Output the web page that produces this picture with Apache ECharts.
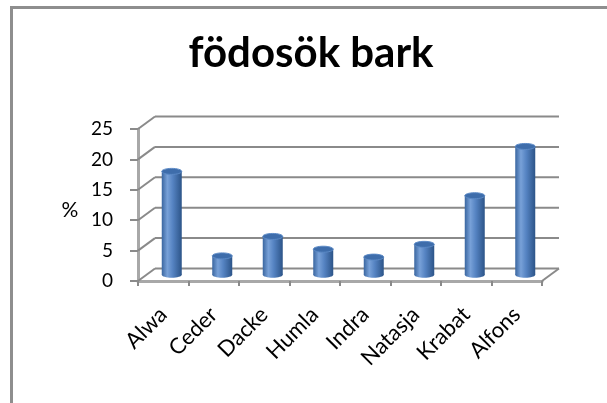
<!DOCTYPE html>
<html>
<head>
<meta charset="utf-8">
<script src="https://cdn.jsdelivr.net/npm/echarts@6/dist/echarts.min.js"></script>
<style>
  html, body { margin: 0; padding: 0; background: #ffffff; }
  #chart { width: 607px; height: 403px; }
</style>
</head>
<body>
<div id="chart"></div>
<script>
// Share of foraging on bark, per individual
const categories = ['Alwa', 'Ceder', 'Dacke', 'Humla', 'Indra', 'Natasja', 'Krabat', 'Alfons'];
const percentValues = [17, 3.1, 6.3, 4.2, 2.9, 5, 13, 21.1];
const yTicks = [0, 5, 10, 15, 20, 25];

// Depth of the pseudo-3D box (back wall offset from the front plane)
const DX = 17;
const DY = -12.5;
const GRID_COLOR = '#8a8a8a';
const AXIS_COLOR = '#a8a8a8';
const FONT = 'Lato, "Open Sans", sans-serif';

const chart = echarts.init(document.getElementById('chart'), null, { renderer: 'canvas' });

// Back-wall gridlines plus the diagonal depth connectors
function renderWall(params, api) {
  const cs = params.coordSys;
  const v = api.value(1);
  const y = api.coord([0, v])[1];
  const x0 = cs.x;
  const x1 = cs.x + cs.width;
  const style = { stroke: GRID_COLOR, lineWidth: 2 };
  const children = [
    { type: 'line', shape: { x1: x0, y1: y, x2: x0 + DX, y2: y + DY }, style },
    { type: 'line', shape: { x1: x0 + DX, y1: y + DY, x2: x1 + DX, y2: y + DY }, style }
  ];
  if (v === 0) {
    children.push({ type: 'line', shape: { x1: x1, y1: y, x2: x1 + DX, y2: y + DY }, style });
  }
  return { type: 'group', children };
}

// Cylinder bars sitting half-way into the box depth
function renderCylinder(params, api) {
  const idx = api.value(0);
  const top = api.coord([idx, api.value(1)]);
  const base = api.coord([idx, 0]);
  const cx = top[0] + DX / 2;
  const ty = top[1] + DY / 2;
  const by = base[1] + DY / 2;
  const rx = 10;
  const ry = 3;
  const bodyFill = {
    type: 'linear', x: 0, y: 0, x2: 1, y2: 0,
    colorStops: [
      { offset: 0, color: '#3a66a0' },
      { offset: 0.28, color: '#78a1d8' },
      { offset: 0.55, color: '#5583c2' },
      { offset: 1, color: '#2c5488' }
    ]
  };
  return {
    type: 'group',
    children: [
      { type: 'ellipse', shape: { cx: cx, cy: by, rx: rx, ry: ry }, style: { fill: bodyFill } },
      { type: 'rect', shape: { x: cx - rx, y: ty, width: rx * 2, height: by - ty }, style: { fill: bodyFill } },
      { type: 'ellipse', shape: { cx: cx, cy: ty, rx: rx, ry: ry }, style: { fill: '#3e6dab', stroke: '#5c8ac6', lineWidth: 1 } }
    ]
  };
}

const option = {
  animation: false,
  backgroundColor: '#ffffff',
  grid: { left: 138, right: 65, top: 129, bottom: 122, containLabel: false },
  graphic: [
    { type: 'line', shape: { x1: 11.5, y1: 7.5, x2: 607, y2: 7.5 }, style: { stroke: '#8e8e8e', lineWidth: 3 } },
    { type: 'line', shape: { x1: 11.5, y1: 6, x2: 11.5, y2: 403 }, style: { stroke: '#8e8e8e', lineWidth: 3 } },
    {
      type: 'text', x: 311, y: 53,
      style: {
        text: 'födosök bark', font: 'bold 42px ' + FONT, fill: '#000000',
        textAlign: 'center', textVerticalAlign: 'middle'
      }
    },
    {
      type: 'text', x: 70, y: 210,
      style: {
        text: '%', font: '21px ' + FONT, fill: '#000000',
        textAlign: 'center', textVerticalAlign: 'middle'
      }
    }
  ],
  xAxis: {
    type: 'category',
    data: categories,
    axisLine: { lineStyle: { color: AXIS_COLOR, width: 3 } },
    axisTick: { show: true, interval: 0, length: 5, lineStyle: { color: GRID_COLOR, width: 2 } },
    axisLabel: {
      interval: 0, rotate: 45, margin: 30,
      fontFamily: FONT, fontSize: 22, color: '#000000'
    },
    splitLine: { show: false }
  },
  yAxis: {
    type: 'value',
    min: 0, max: 25, interval: 5,
    axisLine: { show: true, lineStyle: { color: AXIS_COLOR, width: 3 } },
    axisTick: { show: true, length: 8, lineStyle: { color: GRID_COLOR, width: 2 } },
    axisLabel: { margin: 25, fontFamily: FONT, fontSize: 19, color: '#000000' },
    splitLine: { show: false }
  },
  series: [
    {
      type: 'custom',
      name: 'wall',
      renderItem: renderWall,
      data: yTicks.map(v => [0, v]),
      silent: true,
      z: 1
    },
    {
      type: 'custom',
      name: '%',
      renderItem: renderCylinder,
      data: percentValues.map((v, i) => [i, v]),
      z: 3
    }
  ]
};

chart.setOption(option);
</script>
</body>
</html>
